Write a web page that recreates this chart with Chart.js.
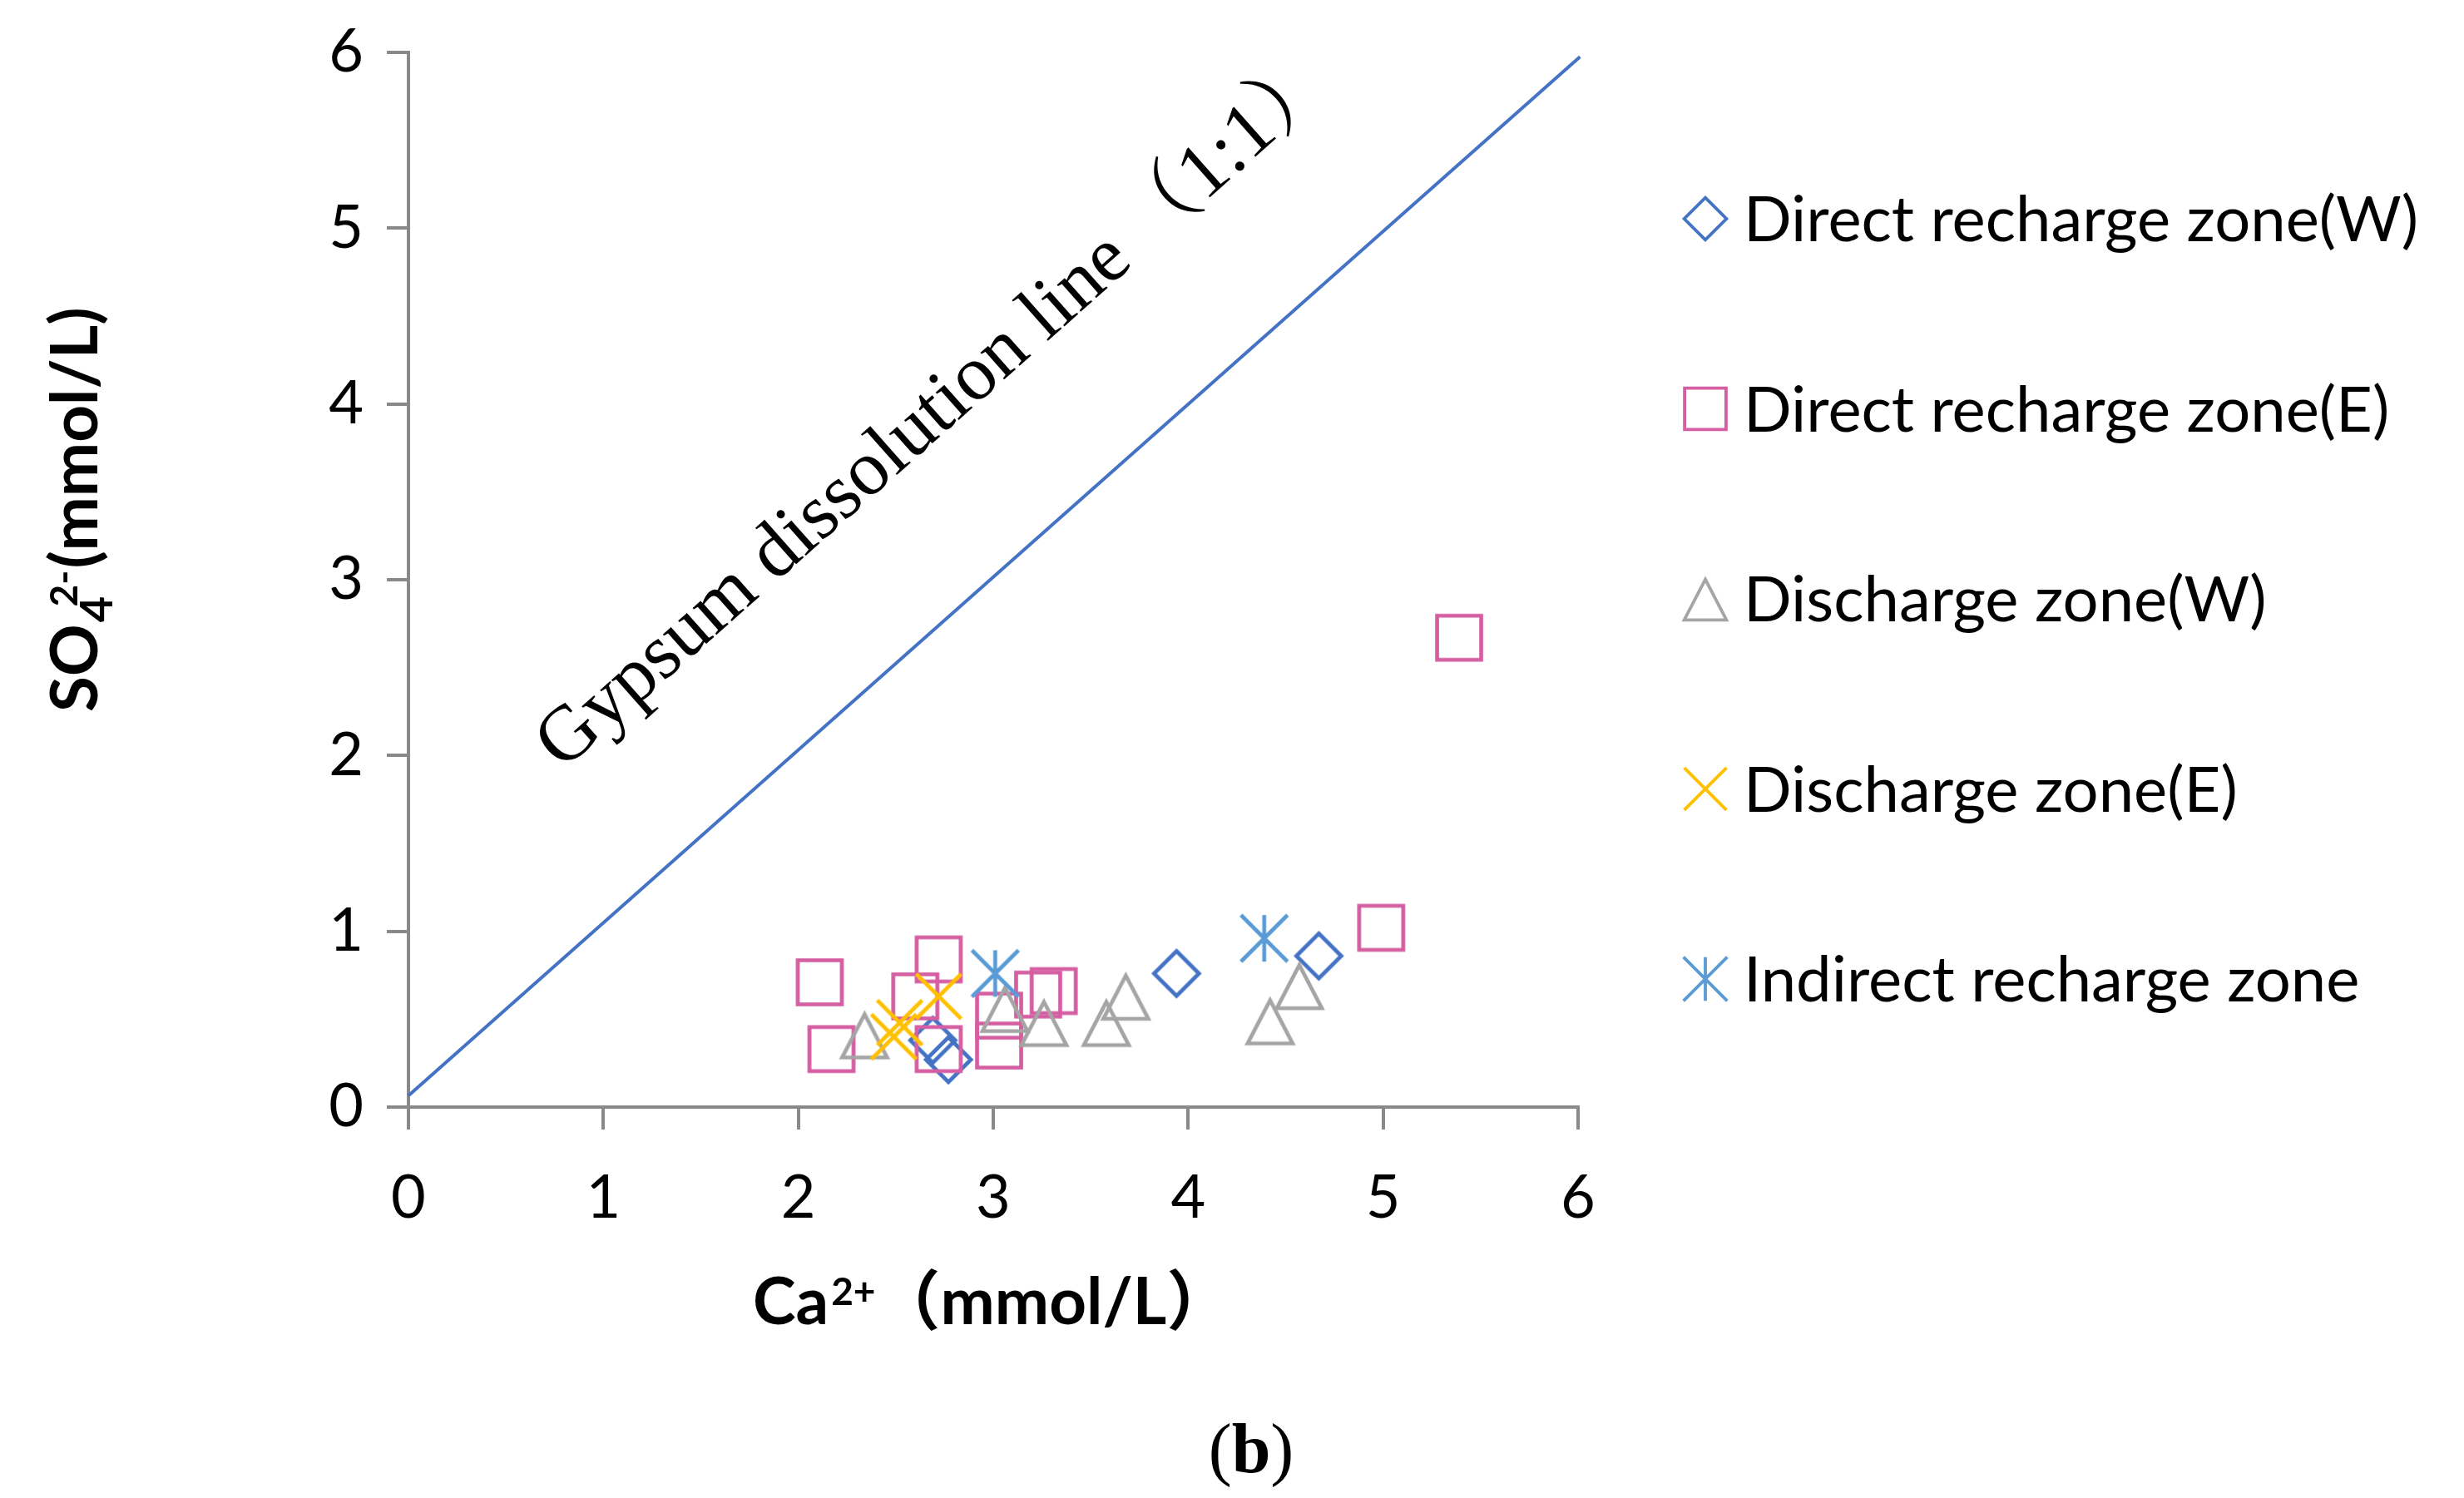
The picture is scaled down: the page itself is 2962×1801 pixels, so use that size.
<!DOCTYPE html>
<html><head><meta charset="utf-8">
<script src="https://cdn.jsdelivr.net/npm/chart.js@4.4.1/dist/chart.umd.min.js"></script>
<style>html,body{margin:0;padding:0;background:#fff;overflow:hidden}canvas{display:block}</style>
</head><body>
<canvas id="c" width="2962" height="1801"></canvas>
<script>
// ---------- data ----------
const seriesNames = ['Direct recharge zone(W)', 'Direct recharge zone(E)', 'Discharge zone(W)', 'Discharge zone(E)', 'Indirect recharge zone'];
const directW_Ca  = [2.69, 2.77, 3.94, 4.67];
const directW_SO4 = [0.38, 0.27, 0.76, 0.86];
const directE_Ca  = [2.11, 2.17, 2.60, 2.72, 2.72, 3.03, 3.03, 3.23, 3.31, 4.99, 5.39];
const directE_SO4 = [0.71, 0.33, 0.63, 0.84, 0.33, 0.52, 0.35, 0.64, 0.66, 1.02, 2.67];
const dischW_Ca   = [2.34, 3.06, 3.26, 3.58, 3.68, 4.42, 4.57];
const dischW_SO4  = [0.41, 0.56, 0.48, 0.48, 0.63, 0.49, 0.69];
const dischE_Ca   = [2.49, 2.52, 2.72];
const dischE_SO4  = [0.40, 0.48, 0.63];
const indirect_Ca  = [3.01, 4.39];
const indirect_SO4 = [0.76, 0.96];
const gypsumLine_Ca  = [0, 6.01];
const gypsumLine_SO4 = [0.065, 5.975];
const xTickValues = [0, 1, 2, 3, 4, 5, 6];
const yTickValues = [0, 1, 2, 3, 4, 5, 6];
const gypsumLabel = 'Gypsum dissolution line\u2009（1:1）';
const gypsumLabelAt = [0.79, 1.91];
const panelLabel = 'b';

// ---------- styles ----------
const COLORS = ['#4472C4', '#D55EA2', '#A5A5A5', '#FFC000', '#5B9BD5'];
const TYPES = ['diamond', 'square', 'triangle', 'x', 'asterisk'];
const AXIS = '#898989';

function drawMarker(ctx, type, cx, cy, color, s, lw) {
  ctx.save();
  ctx.strokeStyle = color;
  ctx.lineWidth = lw;
  ctx.lineJoin = 'miter';
  ctx.lineCap = 'butt';
  ctx.beginPath();
  if (type === 'diamond') {
    const h = 27 * s;
    ctx.moveTo(cx, cy - h); ctx.lineTo(cx + h, cy); ctx.lineTo(cx, cy + h); ctx.lineTo(cx - h, cy); ctx.closePath();
  } else if (type === 'square') {
    const h = 26.5 * s;
    ctx.rect(cx - h, cy - h, 2 * h, 2 * h);
  } else if (type === 'triangle') {
    ctx.moveTo(cx, cy - 25 * s); ctx.lineTo(cx + 27 * s, cy + 27 * s); ctx.lineTo(cx - 27 * s, cy + 27 * s); ctx.closePath();
  } else if (type === 'x') {
    const d = 27 * s;
    ctx.moveTo(cx - d, cy - d); ctx.lineTo(cx + d, cy + d);
    ctx.moveTo(cx + d, cy - d); ctx.lineTo(cx - d, cy + d);
  } else if (type === 'asterisk') {
    const d = 28 * s;
    ctx.moveTo(cx, cy - d); ctx.lineTo(cx, cy + d);
    ctx.moveTo(cx - d, cy - d); ctx.lineTo(cx + d, cy + d);
    ctx.moveTo(cx + d, cy - d); ctx.lineTo(cx - d, cy + d);
  }
  ctx.stroke();
  ctx.restore();
}
function markerCanvas(type, color) {
  const c = document.createElement('canvas');
  c.width = 80; c.height = 80;
  drawMarker(c.getContext('2d'), type, 40, 40, color, 1, 4.7);
  return c;
}
const zip = (xs, ys) => xs.map((x, i) => ({x: x, y: ys[i]}));

const seriesData = [
  zip(directW_Ca, directW_SO4),
  zip(directE_Ca, directE_SO4),
  zip(dischW_Ca, dischW_SO4),
  zip(dischE_Ca, dischE_SO4),
  zip(indirect_Ca, indirect_SO4)
];

const datasets = seriesData.map((d, i) => ({
  label: seriesNames[i],
  data: d,
  pointStyle: markerCanvas(TYPES[i], COLORS[i]),
  pointRadius: 30,
  pointHoverRadius: 30,
  showLine: false,
  order: 5 - i
}));
datasets.push({
  label: 'Gypsum dissolution line',
  data: zip(gypsumLine_Ca, gypsumLine_SO4),
  showLine: true,
  borderColor: COLORS[0],
  borderWidth: 4,
  pointRadius: 0,
  clip: false,
  order: 10
});

const LATO = "Lato, 'Noto Sans', sans-serif";

const annot = {
  id: 'annot',
  afterDraw(chart) {
    const ctx = chart.ctx, xs = chart.scales.x, ys = chart.scales.y;
    ctx.save();
    ctx.fillStyle = '#000';
    ctx.textAlign = 'left';
    ctx.textBaseline = 'alphabetic';

    // gypsum label, parallel to the 1:1 line
    const ang = Math.atan2(
      ys.getPixelForValue(gypsumLine_SO4[1]) - ys.getPixelForValue(gypsumLine_SO4[0]),
      xs.getPixelForValue(gypsumLine_Ca[1]) - xs.getPixelForValue(gypsumLine_Ca[0]));
    ctx.save();
    ctx.translate(xs.getPixelForValue(gypsumLabelAt[0]), ys.getPixelForValue(gypsumLabelAt[1]));
    ctx.rotate(ang);
    ctx.font = "94px 'Liberation Serif', 'Noto Serif CJK SC', 'Noto Sans CJK SC', serif";
    ctx.fillText(gypsumLabel, 0, 0);
    ctx.restore();

    const F = 78;
    const main = 'bold ' + F + "px " + LATO;
    // x axis title: Ca2+ (mmol/L)
    {
      let x = 905; const y = 1592;
      ctx.font = main; ctx.fillText('Ca', x, y); x += ctx.measureText('Ca').width + 3;
      ctx.font = 'bold 46px ' + LATO; ctx.fillText('2+', x, y - 23); x += ctx.measureText('2+').width;
      ctx.font = 'bold ' + F + "px Lato, 'Noto Sans CJK SC', sans-serif"; ctx.fillText('（mmol/L）', x, y);
    }
    // y axis title: SO4 2-(mmol/L)
    {
      ctx.save();
      ctx.translate(117, 856);
      ctx.rotate(-Math.PI / 2);
      let x = 0;
      ctx.font = main; ctx.fillText('SO', x, 0); x += ctx.measureText('SO').width + 2;
      ctx.font = 'bold 54px ' + LATO;
      const w4 = ctx.measureText('4').width;
      ctx.fillText('4', x, 18);
      ctx.font = 'bold 46px ' + LATO;
      const xs2 = x + w4 * 0.6;
      ctx.fillText('2-', xs2, -24);
      x = Math.max(x + w4, xs2 + ctx.measureText('2-').width) + 2;
      ctx.font = main; ctx.fillText('(mmol/L)', x, 0);
      ctx.restore();
    }
    // (b)
    {
      const fN = "84px 'Liberation Serif', serif", fB = "bold 84px 'Liberation Serif', serif";
      ctx.font = fN; const wl = ctx.measureText('(').width, wr = ctx.measureText(')').width;
      ctx.font = fB; const wb = ctx.measureText(panelLabel).width;
      let x = 1504 - (wl + wb + wr) / 2; const y = 1770;
      ctx.font = fN; ctx.fillText('(', x, y); x += wl;
      ctx.font = fB; ctx.fillText(panelLabel, x, y); x += wb;
      ctx.font = fN; ctx.fillText(')', x, y);
    }
    // legend
    {
      ctx.font = '76px ' + LATO;
      for (let i = 0; i < seriesNames.length; i++) {
        const cy = 263 + i * 228.5;
        drawMarker(ctx, TYPES[i], 2050, cy, COLORS[i], 0.94, 3.8);
        ctx.fillText(seriesNames[i], 2096, cy + 0.358 * 76);
      }
    }
    ctx.restore();
  }
};

function axisCfg(isX) {
  return {
    type: 'linear',
    min: 0, max: 6,
    afterBuildTicks: s => { s.ticks = (isX ? xTickValues : yTickValues).map(v => ({value: v})); },
    afterFit: s => {
      if (isX) s.height = 470; else s.width = 491;
      s.paddingTop = 0; s.paddingBottom = 0; s.paddingLeft = 0; s.paddingRight = 0;
    },
    ticks: {
      font: {family: LATO, size: 72},
      color: '#000',
      padding: isX ? 40 : 28,
      maxRotation: 0,
      autoSkip: false
    },
    grid: {display: true, drawOnChartArea: false, drawTicks: true, tickLength: isX ? 27 : 26, color: AXIS, lineWidth: 4},
    border: {display: true, color: AXIS, width: 4},
    title: {display: false}
  };
}

function build() {
  new Chart(document.getElementById('c'), {
    type: 'scatter',
    data: {datasets: datasets},
    options: {
      responsive: false,
      devicePixelRatio: 1,
      animation: false,
      layout: {padding: {left: 0, top: 63, right: 1065, bottom: 0}},
      plugins: {legend: {display: false}, tooltip: {enabled: false}},
      scales: {x: axisCfg(true), y: axisCfg(false)}
    },
    plugins: [annot]
  });
}
Promise.all([
  document.fonts.load('72px Lato'), document.fonts.load('bold 78px Lato'),
  document.fonts.load("84px 'Liberation Serif'"), document.fonts.load("bold 84px 'Liberation Serif'"),
  document.fonts.load("bold 78px 'Noto Sans CJK SC'", '（）')
]).then(build, build);
</script>
</body></html>
